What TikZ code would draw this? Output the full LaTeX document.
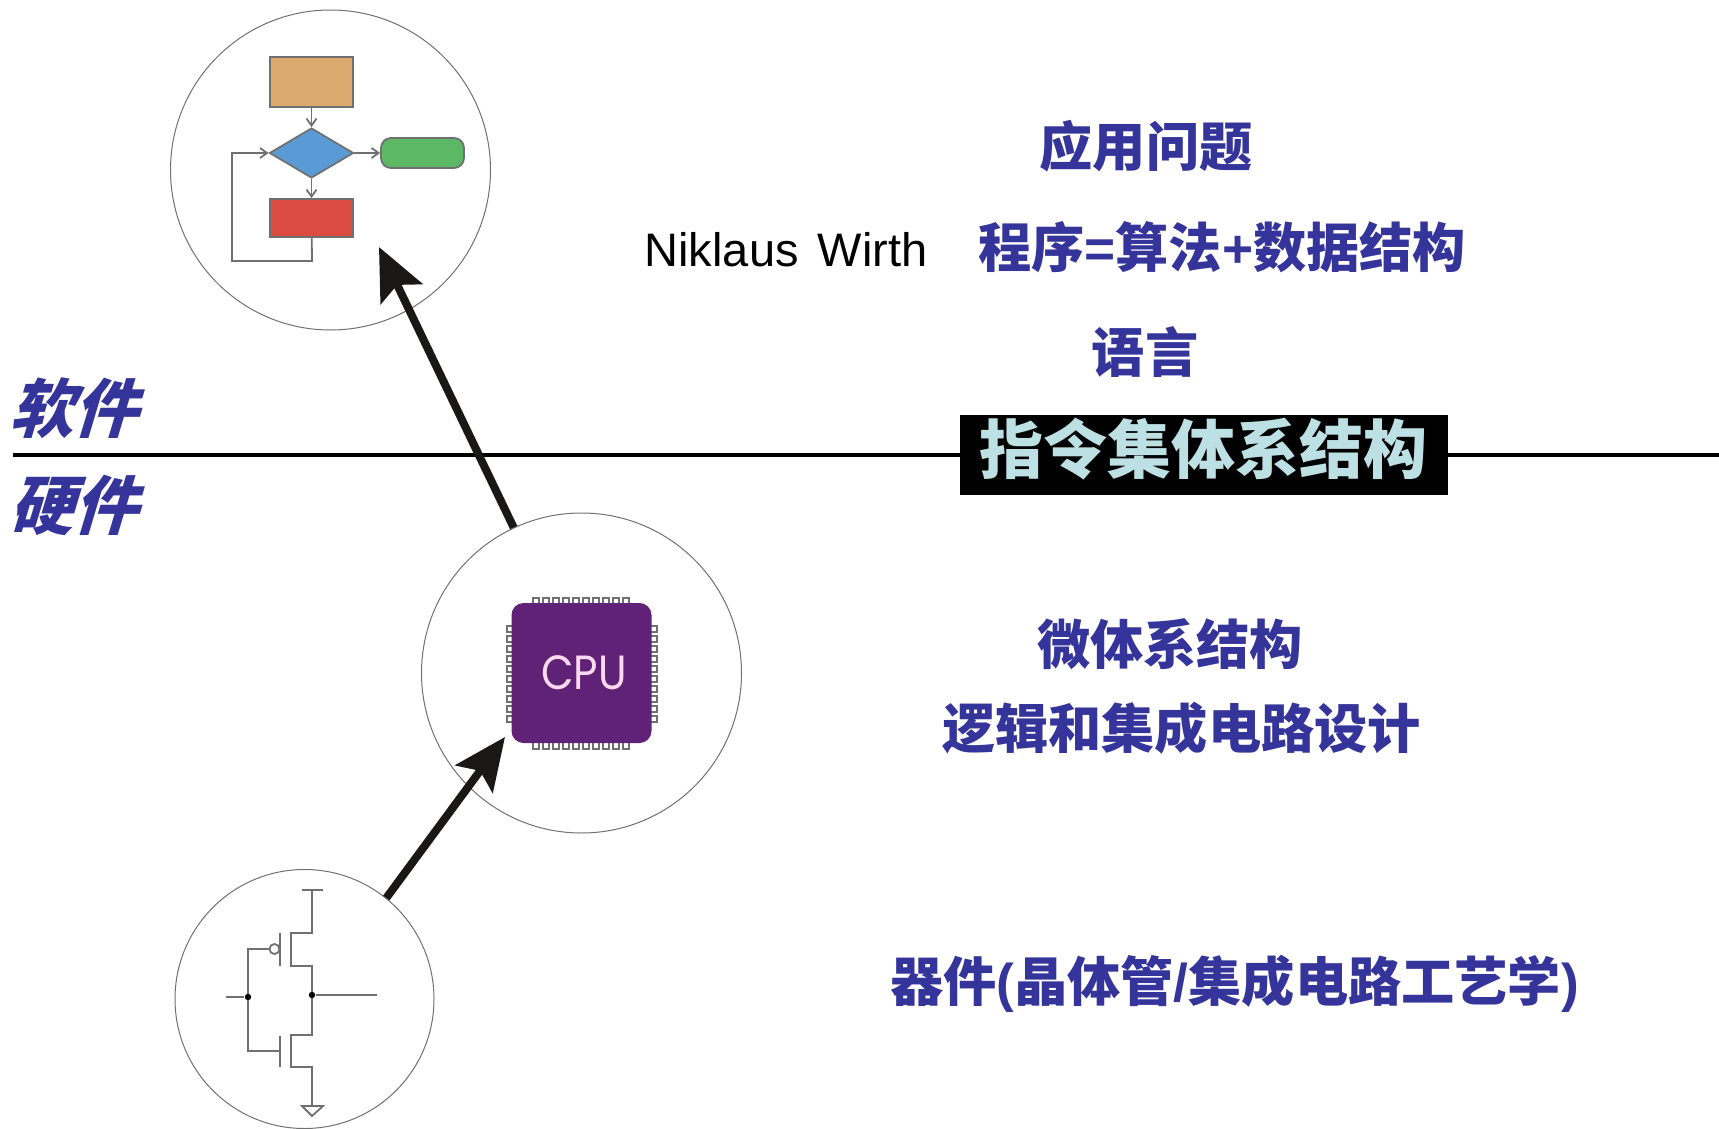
\documentclass[tikz,border=0pt]{standalone}
\usepackage{fontspec}
\setmainfont{Liberation Sans}
\setsansfont{Poppins}
\newfontfamily\cjk{Noto Sans CJK SC}
\newfontfamily\cjkslant[FakeSlant=0.3]{Noto Sans CJK SC}
\newcommand\lat[1]{{\rmfamily\bfseries #1}}
\usetikzlibrary{positioning,shapes.geometric}
\usetikzlibrary{arrows.meta}
\definecolor{layerblue}{HTML}{34349B}
\definecolor{isacyan}{HTML}{BDE0E4}
\definecolor{chippurple}{HTML}{5F2277}
\definecolor{linegray}{HTML}{707070}
\definecolor{arrowblack}{HTML}{1A1717}
\definecolor{startfill}{HTML}{DCAA6E}
\definecolor{testfill}{HTML}{5B9BD5}
\definecolor{endfill}{HTML}{5CB865}
\definecolor{workfill}{HTML}{DD4B45}
\tikzset{
    >=Stealth[round],
    layer/.style = {font = \cjk\bfseries\fontsize{26.6}{30}\selectfont, text = layerblue, inner sep = 0pt},
    side/.style = {font = \cjkslant\bfseries\fontsize{32}{36}\selectfont, text = layerblue, inner sep = 0pt},
    ring/.style = {draw = linegray, circle, line width = 0.5pt, inner sep = 0pt},
    flowbox/.style = {draw = linegray, line width = 0.9pt, minimum width = 41.5pt, inner sep = 0pt},
    flowline/.style = {draw = linegray, line width = 0.9pt, -{Straight Barb[length = 3.5pt, width = 5pt]}},
    wire/.style = {draw = linegray, line width = 0.9pt},
    chippin/.style = {draw = linegray, fill = white, line width = 0.8pt},
    bigarrow/.style = {draw = arrowblack, line width = 4pt, -{Stealth[length = 26pt, width = 23pt, inset = 5pt]}},
    joint/.style = {fill = black, circle, minimum size = 3.2pt, inner sep = 0pt},
}
\begin{document}
\begin{tikzpicture}[x = 0.5pt, y = -0.5pt]
    \useasboundingbox (0,0) rectangle (1719,1129);

    % software / hardware boundary
    \coordinate (ruleleft) at (13,455);
    \coordinate (ruleright) at (1719,455);
    \draw [line width = 1.9pt] (ruleleft) -- (ruleright);
    \node (isa) [fill = black, minimum width = 244pt, minimum height = 40pt, inner sep = 0pt] at (1204,455) {};
    \node (isatext) [text = isacyan, inner sep = 0pt, font = \cjk\bfseries\fontsize{32}{36}\selectfont] at (1203,449) {指令集体系结构};
    \node (soft) [side, anchor = west] at (9,408) {软件};
    \node (hard) [side, anchor = west] at (9,505) {硬件};

    % circles
    \node (flowring) [ring, minimum size = 160pt] at (330.5,170) {};
    \node (cpuring) [ring, minimum size = 160pt] at (581.5,673) {};
    \node (gatering) [ring, minimum size = 129.5pt] at (304.5,999) {};

    % flow chart
    \node (startbox) [flowbox, fill = startfill, minimum height = 25pt] at (311.5,82) {};
    \node (testbox) [flowbox, diamond, aspect = 1.667, fill = testfill, minimum width = 42pt, minimum height = 25pt] at (311.5,153) {};
    \node (endbox) [flowbox, rounded corners = 5pt, fill = endfill, minimum height = 15pt] at (422.5,153) {};
    \node (workbox) [flowbox, fill = workfill, minimum height = 19pt] at (311.5,218) {};
    \coordinate (loopright) at (312,261);
    \coordinate (loopleft) at (232,261);
    \draw [flowline] (startbox) -- (testbox);
    \draw [flowline] (testbox) -- (endbox);
    \draw [flowline] (testbox) -- (workbox);
    \draw [flowline] (workbox) -- (loopright) -- (loopleft) |- (testbox);

    % chip
    \foreach \i in {0,...,9} {
        \path [chippin] (533+10*\i,598) rectangle ++(6,7);
        \path [chippin] (533+10*\i,742) rectangle ++(6,7);
        \path [chippin] (507,626+10*\i) rectangle ++(8,6);
        \path [chippin] (649,626+10*\i) rectangle ++(8,6);
    }
    \node (cpuchip) [fill = chippurple, rounded corners = 6pt, minimum size = 70pt, inner sep = 0pt] at (581.5,673) {};
    \node (cpulabel) [transform shape, xscale = 0.88, font = \sffamily\fontsize{24}{28}\selectfont, text = white!85!magenta, inner sep = 0pt] at (584,673) {CPU};

    % transistor pair
    \draw [wire] (302,890) -- (323,890) (312,890) -- (312,933) -- (291,933) -- (291,966) -- (312,966)
        -- (312,1035) -- (291,1035) -- (291,1067) -- (312,1067) -- (312,1106);
    \draw [wire] (302,1106) -- (323,1106) -- (312,1116) -- cycle;
    \draw [wire] (280,933) -- (280,966) (280,1036) -- (280,1067);
    \draw [wire] (269,949) -- (248,949) -- (248,1051) -- (280,1051);
    \draw [wire] (274.5,949) circle (5);
    \node (injoint) [joint] at (248,997) {};
    \node (outjoint) [joint] at (312,995) {};
    \coordinate (inend) at (226,997);
    \coordinate (outend) at (377,995);
    \draw [wire] (inend) -- (injoint);
    \draw [wire] (outjoint) -- (outend);

    % big arrows
    \coordinate (flowtip) at (379,247);
    \coordinate (chiptip) at (505,737);
    \draw [bigarrow] (cpuring.115) -- (flowtip);
    \draw [bigarrow] (gatering.51) -- (chiptip);

    % layer names
    \node (problem) [layer] at (1146,146) {应用问题};
    \node (wirth) [inner sep = 0pt, font = \fontsize{23.5}{28}\selectfont] at (786,250) {Niklaus\hspace{3pt} Wirth};
    \node (program) [layer] at (1222,247) {程序\lat{=}算法\lat{+}数据结构};
    \node (language) [layer] at (1145,352) {语言};
    \node (micro) [layer] at (1170,644) {微体系结构};
    \node (logic) [layer] at (1181.5,728) {逻辑和集成电路设计};
    \node (device) [layer] at (1234.5,984) {器件\lat{(}晶体管\lat{/}集成电路工艺学\lat{)}};
\end{tikzpicture}
\end{document}
